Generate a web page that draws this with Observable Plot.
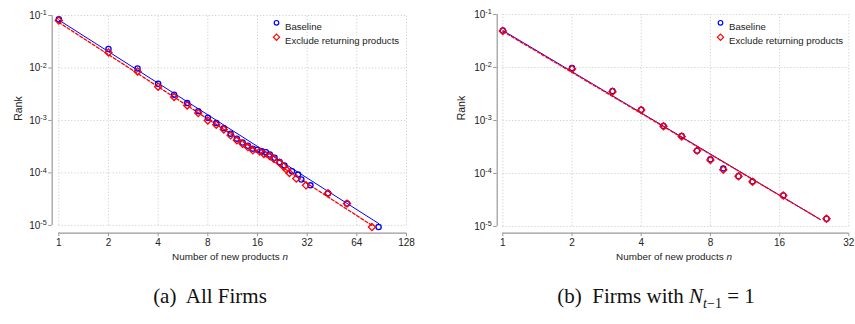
<!DOCTYPE html>
<html><head><meta charset="utf-8">
<script src="https://cdn.jsdelivr.net/npm/d3@7"></script>
<script src="https://cdn.jsdelivr.net/npm/@observablehq/plot@0.6"></script>
<style>
body{margin:0;background:#fff;}
#wrap{position:relative;width:855px;height:324px;overflow:hidden;background:#fff;}
.panel{position:absolute;top:0;}
.xt{position:absolute;transform:translateX(-50%);white-space:nowrap;color:#222;}
.cap{position:absolute;transform:translateX(-50%);white-space:nowrap;font-family:"Liberation Serif","DejaVu Serif",serif;font-size:21px;color:#111;}
</style></head><body><div id="wrap"></div>
<script>
// ---------- data ----------
const seriesNames = ["Baseline", "Exclude returning products"];
const xTitle = "Number of new products";
const captionA = "(a)&nbsp; All Firms";
const captionB = "(b)&nbsp; Firms with <i>N</i><sub style='font-size:14px'><i>t</i>−1</sub> = 1";

const xTicksA = [1, 2, 4, 8, 16, 32, 64, 128];
const xTicksB = [1, 2, 4, 8, 16, 32];
const yTicks = [1e-1, 1e-2, 1e-3, 1e-4, 1e-5];
const yTickLabels = ["10^-1", "10^-2", "10^-3", "10^-4", "10^-5"];

// (a) All firms
const aBaseN = [1, 2, 3, 4, 5, 6, 7, 8, 9, 10, 11, 12, 13, 14, 15, 16, 17, 18, 19, 20.3, 21.8, 23.3, 25.9, 28.2, 29.5, 33.5, 42.8, 55.8, 86.7];
const aBaseR = [0.085, 0.023, 0.0098, 0.0050, 0.0031, 0.00214, 0.00150, 0.00113, 0.00089, 0.00071, 0.00056, 0.00045, 0.00038, 0.00033, 0.00029, 0.000276, 0.00026, 0.000249, 0.000225, 0.000195, 0.000161, 0.000139, 0.000108, 0.000093, 0.000075, 0.000058, 0.000041, 0.000026, 0.0000093];
const aExclN = [1, 2, 3, 4, 5, 6, 7, 8, 9, 10, 11, 12, 13, 14, 15, 16.5, 17.5, 19, 20, 21.8, 23, 24, 25, 27.5, 31.5, 42.8, 55.8, 79];
const aExclR = [0.080, 0.0197, 0.0086, 0.0044, 0.0028, 0.00193, 0.00138, 0.00100, 0.00083, 0.00067, 0.00052, 0.00042, 0.00036, 0.00031, 0.00027, 0.000255, 0.00023, 0.00021, 0.000188, 0.000156, 0.000133, 0.000115, 0.000100, 0.000078, 0.000058, 0.000041, 0.000026, 0.0000093];
const aFitBaseN = [1, 87];
const aFitBaseR = [0.082, 0.0000108];
const aFitExclN = [1, 79];
const aFitExclR = [0.074, 0.0000100];

// (b) Firms with N_{t-1} = 1
const bBaseN = [1, 2, 3, 4, 5, 6, 7, 8, 9.1, 10.6, 12.2, 16.6, 25.6];
const bBaseR = [0.050, 0.0098, 0.0036, 0.0016, 0.00079, 0.00051, 0.00027, 0.000185, 0.000125, 0.000089, 0.000071, 0.0000385, 0.000014];
const bExclN = [1, 2, 3, 4, 5, 6, 7, 8, 9.1, 10.6, 12.2, 16.6, 25.6];
const bExclR = [0.049, 0.0094, 0.0035, 0.00158, 0.00078, 0.00050, 0.00027, 0.00018, 0.000118, 0.000089, 0.000070, 0.0000385, 0.000014];
const bFitBaseN = [1, 24.1];
const bFitBaseR = [0.050, 0.0000135];
const bFitExclN = [1, 24.1];
const bFitExclR = [0.048, 0.0000135];

// ---------- fonts ----------
function hasFont(name) {
  const c = document.createElement("canvas").getContext("2d");
  const s = "abcdefghijklmnopqrstuvwxyz0123456789";
  c.font = "20px monospace"; const a = c.measureText(s).width;
  c.font = `20px "${name}", monospace`; return c.measureText(s).width !== a;
}
const narrow = hasFont("Liberation Sans Narrow");
const FONT = narrow ? '"Liberation Sans Narrow", "Liberation Sans", sans-serif' : '"Liberation Sans", Arial, sans-serif';
const FS = narrow ? 11.5 : 10;
const FL = narrow ? 11 : 9.6;

const rows = (n, r) => n.map((d, i) => ({n: d, r: r[i]}));

function panel(o) {
  const xLast = o.xTicks[o.xTicks.length - 1];
  const fmtY = d => yTickLabels[yTicks.findIndex(t => Math.abs(Math.log10(t / d)) < 1e-6)];
  const svg = Plot.plot({
    width: o.width, height: o.height,
    marginLeft: o.ml, marginRight: o.mr, marginTop: o.mt, marginBottom: o.mb,
    style: {fontFamily: FONT, fontSize: FS + "px", color: "#222", background: "white", overflow: "visible"},
    x: {type: "log", base: 2, domain: o.xDomain},
    y: {type: "log", domain: o.yDomain},
    marks: [
      Plot.ruleX(o.xTicks, {x: d => d, y1: yTicks[4], y2: yTicks[0], stroke: "#cfcfcf", strokeDasharray: "1.2,2"}),
      Plot.ruleY(yTicks, {y: d => d, x1: o.xTicks[0], x2: xLast, stroke: "#cfcfcf", strokeDasharray: "1.2,2"}),
      Plot.ruleX([o.xDomain[0]], {y1: yTicks[4], y2: yTicks[0], stroke: "#9a9a9a", strokeWidth: 1.2}),
      Plot.ruleY([o.yDomain[0]], {x1: o.xTicks[0], x2: xLast, stroke: "#9a9a9a", strokeWidth: 1.2}),
      Plot.axisX(o.xTicks, {tickSize: 3.5, tickPadding: 2, stroke: "#9a9a9a", fill: "#222", tickFormat: d => String(d), label: null}),
      Plot.axisY(yTicks, {tickSize: 3.5, tickPadding: 2, stroke: "#9a9a9a", fill: "#222", tickFormat: fmtY, label: null}),
      Plot.line(rows(o.fitBaseN, o.fitBaseR), {x: "n", y: "r", stroke: "#0000ff", strokeWidth: 1}),
      Plot.line(rows(o.fitExclN, o.fitExclR), {x: "n", y: "r", stroke: "#ff0000", strokeWidth: 1.3, strokeDasharray: "3,2"}),
      Plot.dot(rows(o.baseN, o.baseR), {x: "n", y: "r", symbol: "circle", r: 2.6, stroke: "#0000ff", strokeWidth: 1.3, fill: "none"}),
      Plot.dot(rows(o.exclN, o.exclR), {x: "n", y: "r", symbol: "diamond2", r: 3.2, stroke: "#ff0000", strokeWidth: 1.3, fill: "none"}),
      // legend
      Plot.dot([seriesNames[0]], {frameAnchor: "top-left", dx: o.legDx, dy: o.legDy1, symbol: "circle", r: 2.3, stroke: "#0000ff", strokeWidth: 1.2}),
      Plot.dot([seriesNames[1]], {frameAnchor: "top-left", dx: o.legDx, dy: o.legDy2, symbol: "diamond2", r: 2.8, stroke: "#ff0000", strokeWidth: 1.2}),
      Plot.text([seriesNames[0]], {frameAnchor: "top-left", dx: o.legDx + 8.5, dy: o.legDy1, text: d => d, textAnchor: "start", fill: "#222", fontSize: FL}),
      Plot.text([seriesNames[1]], {frameAnchor: "top-left", dx: o.legDx + 8.5, dy: o.legDy2, text: d => d, textAnchor: "start", fill: "#222", fontSize: FL}),
      // y title
      Plot.text(["Rank"], {frameAnchor: "left", rotate: -90, dx: o.rankDx, dy: -3.5, text: d => d, fill: "#222", fontSize: FS + 0.5})
    ]
  });
  // superscript exponents in the y tick labels
  d3.select(svg).selectAll('g[aria-label="y-axis tick label"] text').each(function () {
    const parts = this.textContent.split("^");
    if (parts.length !== 2) return;
    const t = d3.select(this);
    t.text(null);
    t.append("tspan").text(parts[0]);
    t.append("tspan").attr("dy", "-0.45em").attr("font-size", "0.72em").text(parts[1]);
  });
  return svg;
}

const wrap = document.getElementById("wrap");
const A = panel({
  width: 430, height: 270, ml: 51.7, mr: 24, mt: 15, mb: 37.3,
  xDomain: [0.912, 128], yDomain: [7.1e-6, 0.1], xTicks: xTicksA,
  baseN: aBaseN, baseR: aBaseR, exclN: aExclN, exclR: aExclR,
  fitBaseN: aFitBaseN, fitBaseR: aFitBaseR, fitExclN: aFitExclN, fitExclR: aFitExclR,
  legDx: 224.3, legDy1: 7.3, legDy2: 21.7, rankDx: -34
});
A.classList.add("panel"); A.style.left = "0px";
const B = panel({
  width: 425, height: 270, ml: 66.7, mr: 6.7, mt: 14, mb: 37.3,
  xDomain: [0.945, 32], yDomain: [7.48e-6, 0.1], xTicks: xTicksB,
  baseN: bBaseN, baseR: bBaseR, exclN: bExclN, exclR: bExclR,
  fitBaseN: bFitBaseN, fitBaseR: bFitBaseR, fitExclN: bFitExclN, fitExclR: bFitExclR,
  legDx: 223.3, legDy1: 8.3, legDy2: 22.7, rankDx: -35.7
});
B.classList.add("panel"); B.style.left = "430px";
wrap.appendChild(A); wrap.appendChild(B);

function addHTML(cls, html, left, top, extra) {
  const d = document.createElement("div");
  d.className = cls; d.innerHTML = html;
  d.style.left = left + "px"; d.style.top = top + "px";
  Object.assign(d.style, extra || {});
  wrap.appendChild(d);
}
addHTML("xt", xTitle + " <i>n</i>", 230, 251, {fontFamily: FONT, fontSize: (FS - 0.1) + "px"});
addHTML("xt", xTitle + " <i>n</i>", 674, 251, {fontFamily: FONT, fontSize: (FS - 0.1) + "px"});
addHTML("cap", captionA, 210, 284);
addHTML("cap", captionB, 656, 284);
</script>
</body></html>
